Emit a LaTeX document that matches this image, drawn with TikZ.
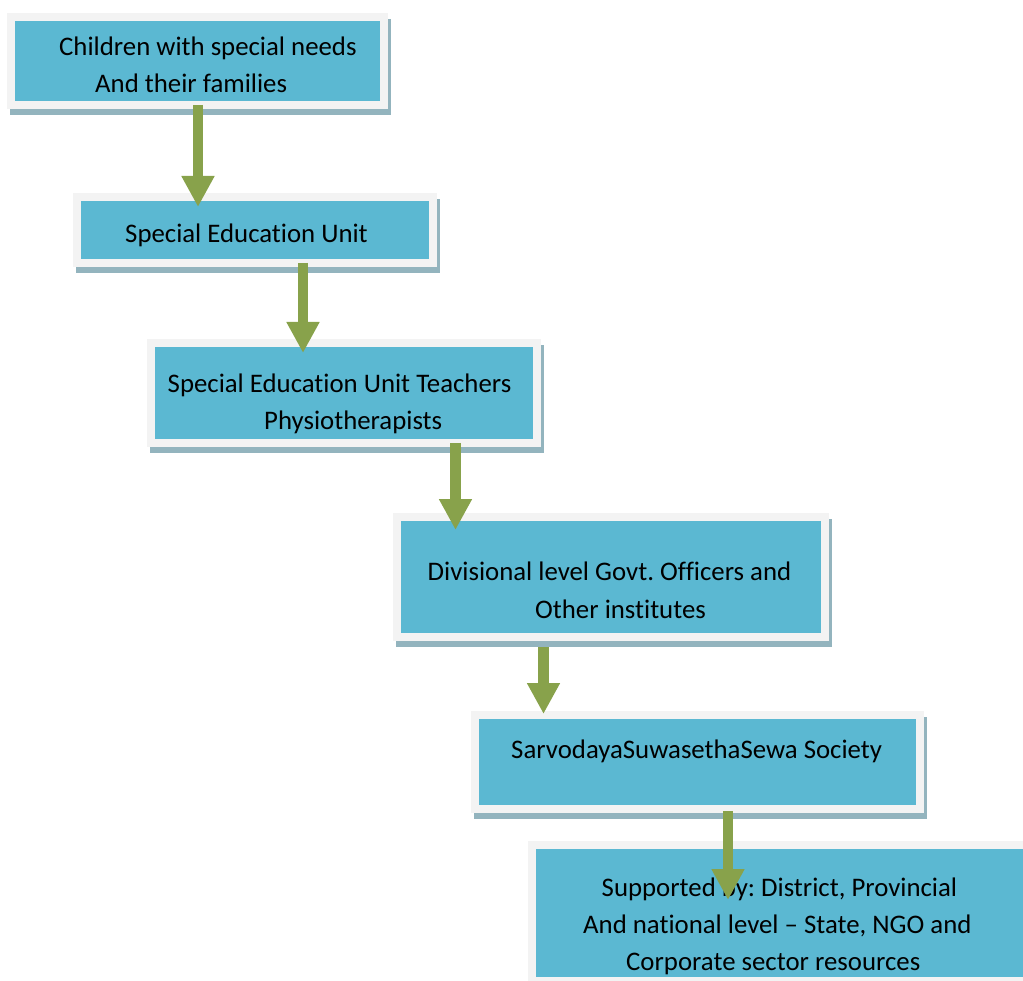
\documentclass[tikz,border=0pt]{standalone}
\usepackage{fontspec}
\setmainfont[Ligatures=NoCommon]{Carlito}
\frenchspacing
\usetikzlibrary{arrows.meta}
\definecolor{boxblue}{HTML}{5BB8D2}
\definecolor{framegray}{HTML}{F3F3F3}
\definecolor{shadowc}{HTML}{93B4BE}
\definecolor{arrowgreen}{HTML}{88A24B}
\tikzset{
  box/.style={rectangle, inner sep=0pt, outer sep=0pt, fill=boxblue, draw=framegray, line width=8pt,
    preaction={draw=shadowc, fill=shadowc, line width=8pt, transform canvas={shift={(3pt,-6pt)}}}},
  txt/.style={anchor=base west, inner sep=0pt, font=\fontsize{26.8}{32}\selectfont\frenchspacing, text=black},
  arr/.style={draw=arrowgreen, line width=10.5pt, -{Triangle[width=31pt,length=31pt]}}
}
\begin{document}
\begin{tikzpicture}[x=1pt,y=1pt]
\useasboundingbox (0,-981) rectangle (1023,0);
\begin{scope}
\clip (0,-981) rectangle (1023,0);
% boxes
\node[box, minimum width=373pt, minimum height=88pt] (b1) at (197.5,-61) {};
\node[box, minimum width=356pt, minimum height=66pt] (b2) at (254.7,-230) {};
\node[box, minimum width=386pt, minimum height=100pt] (b3) at (344,-393) {};
\node[box, minimum width=428pt, minimum height=120pt] (b4) at (611,-577) {};
\node[box, minimum width=445pt, minimum height=94pt] (b5) at (697.5,-762) {};
\node[box, minimum width=512pt, minimum height=136pt] (b6) at (788,-913) {};
% texts
\node[txt] (t1a) at (59,-56) {Children with special needs};
\node[txt] (t1b) at (95,-93) {And their families};
\node[txt] (t2) at (125,-243) {Special Education Unit};
\node[txt] (t3a) at (167.5,-393) {Special Education Unit Teachers};
\node[txt] (t3b) at (264,-430) {Physiotherapists};
\node[txt] (t4a) at (427.5,-580) {Divisional level Govt. Officers and};
\node[txt] (t4b) at (535,-618) {Other institutes};
\node[txt] (t5) at (511,-758) {SarvodayaSuwasethaSewa Society};
\node[txt] (t6a) at (601.5,-896) {Supported by: District, Provincial};
\node[txt] (t6b) at (583,-933) {And national level -- State, NGO and};
\node[txt] (t6c) at (626,-970) {Corporate sector resources};
% arrows
\draw[arr] ([xshift=0.5pt]b1.south) -- ([xshift=-56.7pt,yshift=-10pt]b2.north);
\draw[arr] ([xshift=48.3pt]b2.south) -- ([xshift=-41pt,yshift=-10pt]b3.north);
\draw[arr] ([xshift=111.5pt]b3.south) -- ([xshift=-155.5pt,yshift=-13pt]b4.north);
\draw[arr] ([xshift=-67.5pt,yshift=-10pt]b4.south) -- ([xshift=-154pt,yshift=1pt]b5.north);
\draw[arr] ([xshift=30.5pt,yshift=-2pt]b5.south) -- ([xshift=-60pt,yshift=-55pt]b6.north);
\end{scope}
\end{tikzpicture}
\end{document}
